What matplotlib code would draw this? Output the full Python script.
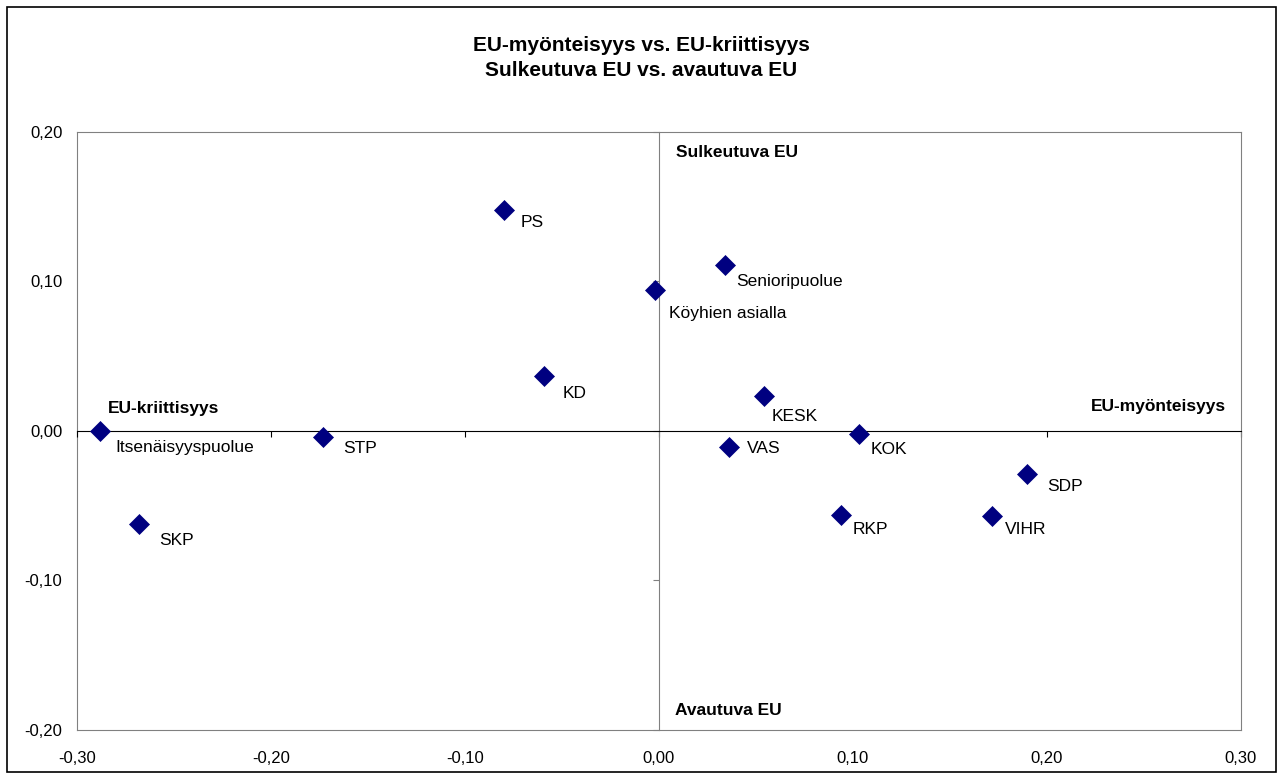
import matplotlib
matplotlib.use("Agg")
import matplotlib.pyplot as plt
from matplotlib.ticker import FuncFormatter, FixedLocator
from matplotlib.patches import Rectangle

plt.rcParams['font.family'] = ['Liberation Sans', 'DejaVu Sans']

# party positions (x: EU-kriittisyys -> EU-myönteisyys, y: avautuva -> sulkeutuva)
parties = ['Itsenäisyyspuolue', 'SKP', 'STP', 'PS', 'KD', 'Köyhien asialla',
           'Senioripuolue', 'KESK', 'VAS', 'KOK', 'SDP', 'RKP', 'VIHR']
x_vals = [-0.288, -0.268, -0.173, -0.080, -0.059, -0.002,
          0.034, 0.054, 0.036, 0.103, 0.190, 0.094, 0.172]
y_vals = [0.000, -0.062, -0.004, 0.148, 0.037, 0.094,
          0.111, 0.023, -0.011, -0.002, -0.029, -0.056, -0.057]

x_ticks = [-0.3, -0.2, -0.1, 0.0, 0.1, 0.2, 0.3]
y_ticks = [-0.2, -0.1, 0.0, 0.1, 0.2]

# label offsets in pixels (left edge, centre), like excel placed them
label_off = [(15, -17), (20, -17), (20, -12), (17, -13), (18, -18), (14, -23),
             (11, -17), (8, -20), (18, -1), (12, -16), (20, -12), (11, -15), (13, -13)]

title = 'EU-myönteisyys vs. EU-kriittisyys\nSulkeutuva EU vs. avautuva EU'

fig = plt.figure(figsize=(12.83, 7.79), dpi=100)
fig.patches.append(Rectangle((0.0055, 0.009), 0.989, 0.982, transform=fig.transFigure,
                             fill=False, edgecolor='black', linewidth=1.2))
fig.text(0.5, 0.925, title, ha='center', va='center', fontsize=15,
         fontweight='bold', linespacing=1.4)

ax = fig.add_axes([0.0600, 0.0629, 0.9070, 0.7680])
ax.set_xlim(-0.3, 0.3)
ax.set_ylim(-0.2, 0.2)

# axes crossing at zero
ax.spines['left'].set_position(('data', 0))
ax.spines['bottom'].set_position(('data', 0))
ax.spines['left'].set_color('#808080')
ax.spines['bottom'].set_color('black')
for s in ['top', 'right']:
    ax.spines[s].set_color('#808080')
ax.xaxis.set_major_locator(FixedLocator(x_ticks))
ax.yaxis.set_major_locator(FixedLocator(y_ticks))
ax.tick_params(axis='both', direction='out', length=4, width=0.8,
               labelleft=False, labelbottom=False)
ax.tick_params(axis='y', color='#808080')

fmt = FuncFormatter(lambda v, p: f'{v:.2f}'.replace('.', ','))

sx = ax.secondary_xaxis('bottom')
sx.xaxis.set_major_locator(FixedLocator(x_ticks))
sx.xaxis.set_major_formatter(fmt)
sx.tick_params(length=0, pad=15, labelsize=12)
sx.spines['bottom'].set_color('#808080')

sy = ax.secondary_yaxis('left')
sy.yaxis.set_major_locator(FixedLocator(y_ticks))
sy.yaxis.set_major_formatter(fmt)
sy.tick_params(length=0, pad=10.5, labelsize=12)
sy.spines['left'].set_color('#808080')

ax.plot(x_vals, y_vals, linestyle='none', marker='D', markersize=10.5,
        color='#000080', markeredgewidth=0.5, zorder=3)

for name, xv, yv, off in zip(parties, x_vals, y_vals, label_off):
    ax.annotate(name, (xv, yv), xytext=off, textcoords='offset pixels',
                ha='left', va='center', fontsize=12.5)

ax.text(0.515, 0.9655, 'Sulkeutuva EU', transform=ax.transAxes, fontsize=12.5,
        fontweight='bold', ha='left', va='center')
ax.text(0.5135, 0.032, 'Avautuva EU', transform=ax.transAxes, fontsize=12.5,
        fontweight='bold', ha='left', va='center')
ax.text(0.0265, 0.537, 'EU-kriittisyys', transform=ax.transAxes, fontsize=12.5,
        fontweight='bold', ha='left', va='center')
ax.text(0.9875, 0.540, 'EU-myönteisyys', transform=ax.transAxes, fontsize=12.5,
        fontweight='bold', ha='right', va='center')

fig.savefig('out.png', dpi=100)
